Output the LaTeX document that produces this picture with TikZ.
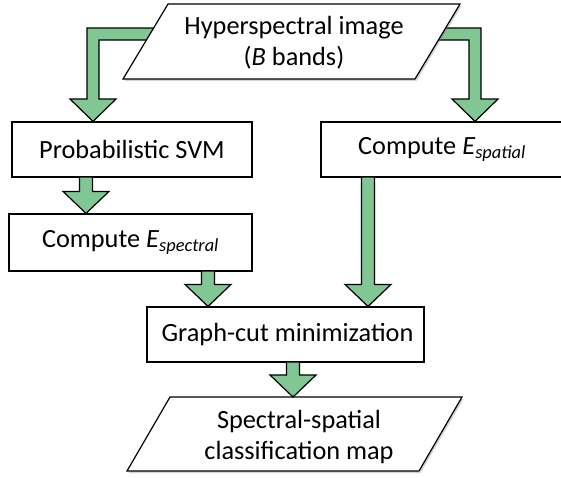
\documentclass[tikz,border=0pt]{standalone}
\usepackage{fontspec}
\setmainfont{Carlito}
\usetikzlibrary{calc,shadows}
\definecolor{arrgreen}{RGB}{128,199,148}
\tikzset{
  box/.style={draw=black,line width=1.2pt,fill=white,rectangle,inner sep=0pt},
  txt/.style={font=\fontsize{26.3}{31}\selectfont,align=center,inner sep=0pt},
  fat/.style={draw=black,line width=1.2pt,fill=arrgreen,line join=miter},
  para/.style={draw=black,line width=1.2pt,fill=white,drop shadow={opacity=0.35,shadow xshift=1.5pt,shadow yshift=-2pt}},
}
\newcommand\fatarrow[2]{%
  \draw[fat] ($(#1)+(-6.5,0)$) -- ($(#2)+(-6.5,-22)$) -- ($(#2)+(-23,-22)$) -- (#2)
    -- ($(#2)+(23,-22)$) -- ($(#2)+(6.5,-22)$) -- ($(#1)+(6.5,0)$);}
\begin{document}
\begin{tikzpicture}[x=1pt,y=-1pt]
\useasboundingbox (0,0) rectangle (561,477);
\clip (0,0) rectangle (561,477);
% boxes
\node[box,minimum width=240pt,minimum height=55pt] (svm) at (132,149.5) {};
\node[txt] at (svm.center) {Probabilistic SVM};
\node[box,minimum width=242pt,minimum height=55pt] (spat) at (442,149.5) {};
\node[txt] at (spat.center) {Compute \textit{E}\textsubscript{\textit{spatial}}};
\node[box,minimum width=243pt,minimum height=57pt] (spec) at (130.5,242.5) {};
\node[txt] at (spec.center) {Compute \textit{E}\textsubscript{\textit{spectral}}};
\node[box,minimum width=277pt,minimum height=55pt] (gc) at (285.5,334.5) {};
\node[txt] at ([xshift=2pt]gc.center) {Graph-cut minimization};
% bent arrows from the input
\coordinate (tl) at (93,0 |- svm.north);
\coordinate (tr) at (475,0 |- spat.north);
\draw[fat] (160,28) -- (87,28) -- (87,99) -- (70,99) -- (tl) -- (116,99) -- (99,99) -- (99,40) -- (160,40);
\draw[fat] (430,28) -- (481,28) -- (481,99) -- (498,99) -- (tr) -- (452,99) -- (469,99) -- (469,40) -- (430,40);
% input parallelogram
\draw[para] (168,4) -- (460,4) -- (415,79) -- (123,79) -- cycle;
\node[txt] (hsi) at (294,43) {Hyperspectral image\\(\textit{B} bands)};
% straight arrows
\coordinate (s1) at (86,0 |- svm.south);
\coordinate (t1) at (86,0 |- spec.north);
\fatarrow{s1}{t1}
\coordinate (s2) at (208,0 |- spec.south);
\coordinate (t2) at (208,0 |- gc.north);
\fatarrow{s2}{t2}
\coordinate (s3) at (368,0 |- spat.south);
\coordinate (t3) at (368,0 |- gc.north);
\fatarrow{s3}{t3}
% output parallelogram
\draw[para] (170,397) -- (462,397) -- (419,471) -- (127,471) -- cycle;
\node[txt] (out) at (299,437) {Spectral-spatial\\classification map};
\coordinate (s4) at (293,0 |- gc.south);
\coordinate (t4) at (293,397);
\fatarrow{s4}{t4}
\end{tikzpicture}
\end{document}
